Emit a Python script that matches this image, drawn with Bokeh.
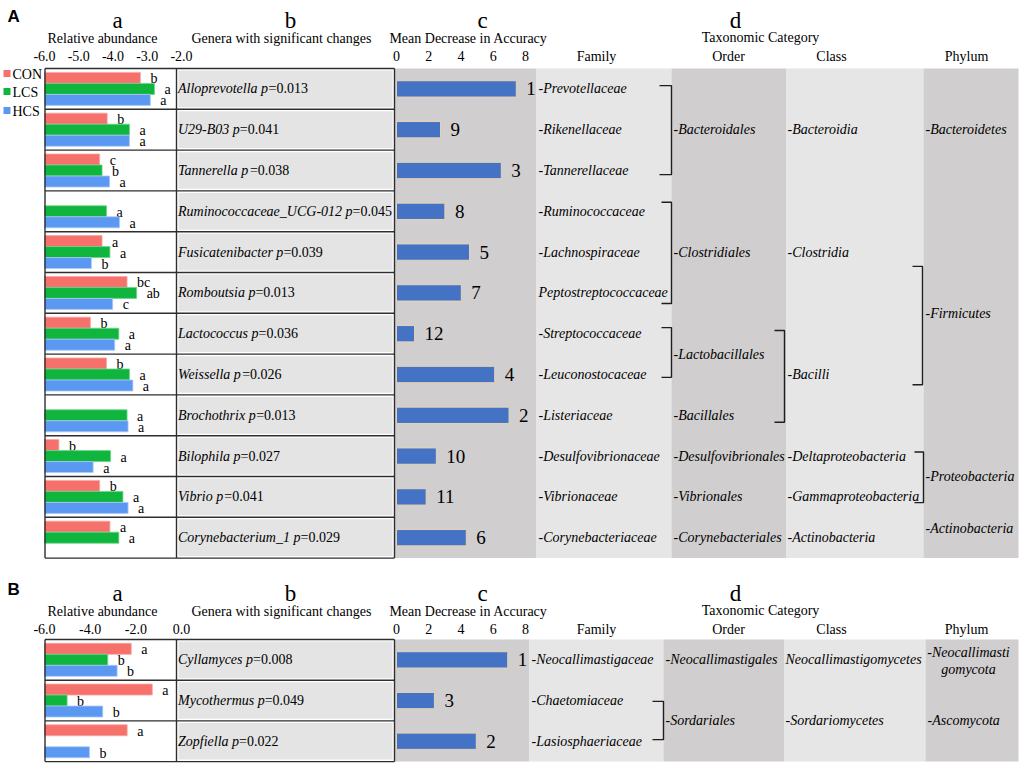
import math
from bokeh.plotting import figure
from bokeh.models import Range1d, ColumnDataSource
from bokeh.core.properties import value
from bokeh.embed import file_html
from bokeh.resources import INLINE

# ====================== DATA ======================
GROUPS = ["CON", "LCS", "HCS"]

# ---- Panel A (bacteria) ----
GENERA_A = ["Alloprevotella", "U29-B03", "Tannerella", "Ruminococcaceae_UCG-012",
            "Fusicatenibacter", "Romboutsia", "Lactococcus", "Weissella",
            "Brochothrix", "Bilophila", "Vibrio", "Corynebacterium_1"]
PVAL_A = ["0.013", "0.041", "0.038", "0.045", "0.039", "0.013", "0.036", "0.026",
          "0.013", "0.027", "0.041", "0.029"]
CON_A = [-3.20, -4.17, -4.39, None, -4.32, -3.59, -4.66, -4.19, None, -5.58, -4.39, -4.09]
LCS_A = [-2.79, -3.52, -4.32, -4.19, -4.09, -3.31, -3.83, -3.52, -3.59, -4.07, -3.71, -3.83]
HCS_A = [-2.91, -3.52, -4.10, -3.81, -4.63, -4.01, -3.95, -3.42, -3.56, -4.58, -3.56, None]
SIG_CON_A = ["b", "b", "c", "", "a", "bc", "b", "b", "", "b", "b", "a"]
SIG_LCS_A = ["a", "a", "b", "a", "a", "ab", "a", "a", "a", "a", "a", "a"]
SIG_HCS_A = ["a", "a", "a", "a", "b", "c", "a", "a", "a", "a", "a", ""]
MDA_A = [7.43, 2.73, 6.50, 3.00, 4.53, 4.02, 1.12, 6.09, 6.98, 2.47, 1.84, 4.33]
RANK_A = [1, 9, 3, 8, 5, 7, 12, 4, 2, 10, 11, 6]
FAMILY_A = ["-Prevotellaceae", "-Rikenellaceae", "-Tannerellaceae", "-Ruminococcaceae",
            "-Lachnospiraceae", "Peptostreptococcaceae", "-Streptococcaceae",
            "-Leuconostocaceae", "-Listeriaceae", "-Desulfovibrionaceae",
            "-Vibrionaceae", "-Corynebacteriaceae"]
ORDER_A = ["-Bacteroidales", "-Clostridiales", "-Lactobacillales", "-Bacillales",
           "-Desulfovibrionales", "-Vibrionales", "-Corynebacteriales"]
CLASS_A = ["-Bacteroidia", "-Clostridia", "-Bacilli", "-Deltaproteobacteria",
           "-Gammaproteobacteria", "-Actinobacteria"]
PHYLUM_A = ["-Bacteroidetes", "-Firmicutes", "-Proteobacteria", "-Actinobacteria"]
REL_TICKS_A = [-6, -5, -4, -3, -2]

# ---- Panel B (fungi) ----
GENERA_B = ["Cyllamyces", "Mycothermus", "Zopfiella"]
PVAL_B = ["0.008", "0.049", "0.022"]
CON_B = [-2.20, -1.28, -2.38]
LCS_B = [-3.23, -5.01, None]
HCS_B = [-2.82, -3.45, -4.03]
SIG_CON_B = ["a", "a", "a"]
SIG_LCS_B = ["b", "b", ""]
SIG_HCS_B = ["b", "b", "b"]
MDA_B = [6.90, 2.35, 4.95]
RANK_B = [1, 3, 2]
FAMILY_B = ["-Neocallimastigaceae", "-Chaetomiaceae", "-Lasiosphaeriaceae"]
ORDER_B = ["-Neocallimastigales", "-Sordariales"]
CLASS_B = ["Neocallimastigomycetes", "-Sordariomycetes"]
PHYLUM_B = ["-Neocallimasti\ngomycota", "-Ascomycota"]
REL_TICKS_B = [-6, -4, -2, 0]

MDA_TICKS = [0, 2, 4, 6, 8]

# ====================== LAYOUT / STYLE ======================
W, H = 1021, 765
XR = (0.0, 1021.0)          # reference-pixel window (left, right)
YR = (765.0, 0.0)           # (bottom, top) -> y grows downward
SERIF = value("Liberation Serif")
SANS = value("Liberation Sans")
COL_CON, COL_LCS, COL_HCS = "#F6716C", "#0FB53C", "#5A98F2"
EDGE_CON, EDGE_LCS, EDGE_HCS = "#F9A5A2", "#6CD38A", "#A9C9F7"
MDA_COL, MDA_EDGE = "#4472C4", "#E6D3B5"
DARK, LIGHT, CELL = "#D0CECE", "#E7E6E6", "#E4E4E4"
LINE = "#2E2E2E"
BOX_X0, GEN_X0, GEN_X1 = 44.5, 176.0, 394.0

# Times (Liberation Serif) italic advance widths, per 1000 em
TI = dict(zip("abcdefghijklmnopqrstuvwxyz",
              [500, 500, 444, 500, 444, 278, 500, 500, 278, 278, 444, 278, 722,
               500, 500, 500, 500, 389, 389, 278, 500, 444, 667, 444, 444, 389]))
TI.update(dict(zip("ABCDEFGHIJKLMNOPQRSTUVWXYZ",
                   [611, 611, 667, 722, 611, 611, 722, 722, 333, 444, 667, 556, 833,
                    667, 722, 611, 722, 611, 500, 556, 722, 611, 833, 611, 556, 556])))
TI.update({" ": 250, "-": 333, "_": 500})
for d in "0123456789":
    TI[d] = 500


def w_italic(s, size):
    return sum(TI.get(c, 500) for c in s) * size / 1000.0


def lin(lo, hi, pa, va, pb, vb):
    k = (vb - va) / (pb - pa)
    return Range1d(start=va + (lo - pa) * k, end=va + (hi - pa) * k)


p = figure(width=W, height=H, x_range=Range1d(*XR), y_range=Range1d(start=YR[0], end=YR[1]),
           x_axis_type=None, y_axis_type=None, toolbar_location=None,
           output_backend="svg", min_border=0, outline_line_color=None)
p.background_fill_color = "white"
p.border_fill_color = "white"

p.extra_x_ranges = {
    "relA": lin(XR[0], XR[1], 44.0, -6.0, 181.0, -2.0),
    "relB": lin(XR[0], XR[1], 44.0, -6.0, 181.0, 0.0),
    "mda": lin(XR[0], XR[1], 396.0, 0.0, 525.0, 8.0),
}

PANELS = [
    dict(name="A", top=68.0, rh=40.8, rel="relA", rows="rowsA",
         genera=GENERA_A, pvals=PVAL_A, vals=[CON_A, LCS_A, HCS_A],
         sigs=[SIG_CON_A, SIG_LCS_A, SIG_HCS_A], mda=MDA_A, rank=RANK_A,
         ticks=REL_TICKS_A,
         cols=[(394, 536, DARK), (536, 671, LIGHT), (671, 786, DARK), (786, 923, LIGHT), (923, 1018, DARK)],
         family=FAMILY_A, fam_x=538,
         order=ORDER_A, order_x=673, order_rows=[1, 4, 6.5, 8, 9, 10, 11],
         klass=CLASS_A, class_x=787, class_rows=[1, 4, 7, 9, 10, 11],
         phylum=PHYLUM_A, phy_x=925, phy_rows=[1, 5.5, 9.5, 10.78],
         brackets=[(659, 671, -0.08, 2.10), (661, 671, 2.78, 5.26), (661, 671, 5.85, 7.07),
                   (774, 784, 5.92, 8.17), (912, 922, 4.35, 7.25), (914, 923, 8.90, 10.14)],
         hdr=(19.5, 37.5, 55.5)),
    dict(name="B", top=639.0, rh=40.7, rel="relB", rows="rowsB",
         genera=GENERA_B, pvals=PVAL_B, vals=[CON_B, LCS_B, HCS_B],
         sigs=[SIG_CON_B, SIG_LCS_B, SIG_HCS_B], mda=MDA_B, rank=RANK_B,
         ticks=REL_TICKS_B,
         cols=[(394, 529, DARK), (529, 663, LIGHT), (663, 784, DARK), (784, 925, LIGHT), (925, 1018, DARK)],
         family=FAMILY_B, fam_x=531,
         order=ORDER_B, order_x=665, order_rows=[0, 1.5],
         klass=CLASS_B, class_x=785, class_rows=[0, 1.5],
         phylum=PHYLUM_B, phy_x=927, phy_rows=[0.03, 1.5],
         brackets=[(652, 663, 1.02, 1.96)],
         hdr=(593.0, 611.0, 628.5)),
]

p.extra_y_ranges = {}
for P in PANELS:
    t, rh = P["top"], P["rh"]
    p.extra_y_ranges[P["rows"]] = lin(YR[0], YR[1], t + 0.5 * rh, 0.0, t + 1.5 * rh, 1.0)


def txt(x, y, s, size="14px", align="center", baseline="alphabetic", style="normal",
        font=SERIF, **kw):
    p.text(x=[x], y=[y], text=[s], text_font=font, text_font_size=size,
           text_align=align, text_baseline=baseline, text_font_style=style,
           text_color="black", **kw)


for P in PANELS:
    rn, rel = P["rows"], P["rel"]
    n = len(P["genera"])
    rows = list(range(n))
    top_px, bot_px = P["top"], P["top"] + n * P["rh"]

    # column backgrounds
    for (x0, x1, c) in P["cols"]:
        p.quad(left=[x0], right=[x1], top=[top_px], bottom=[bot_px],
               fill_color=c, line_color=None)
    # genera cells
    p.quad(left=[GEN_X0 + 2] * n, right=[GEN_X1 - 2] * n,
           top=[r - 0.45 for r in rows], bottom=[r + 0.45 for r in rows],
           y_range_name=rn, fill_color=CELL, line_color=None)

    # relative abundance bars
    for vals, sig, off, col, edge in zip(P["vals"], P["sigs"], (-0.27, 0.0, 0.27),
                                         (COL_CON, COL_LCS, COL_HCS),
                                         (EDGE_CON, EDGE_LCS, EDGE_HCS)):
        keep = [i for i, v in enumerate(vals) if v is not None]
        src = ColumnDataSource(dict(y=[rows[i] + off for i in keep],
                                    v=[vals[i] for i in keep],
                                    t=[sig[i] for i in keep]))
        p.hbar(y="y", left=-6, right="v", height=0.27, source=src,
               x_range_name=rel, y_range_name=rn, fill_color=col,
               line_color=edge, line_width=0.8)
        p.text(x="v", y="y", text="t", source=src, x_range_name=rel, y_range_name=rn,
               x_offset=10, y_offset=1, text_align="left", text_baseline="middle",
               text_font=SERIF, text_font_size="14px", text_color="black")

    # grid lines of the table
    ys = [r - 0.5 for r in range(n + 1)]
    p.segment(x0=[BOX_X0] * (n + 1), y0=ys, x1=[GEN_X1] * (n + 1), y1=ys,
              y_range_name=rn, line_color=LINE, line_width=1.4)
    for x in (BOX_X0, GEN_X0, GEN_X1):
        p.segment(x0=[x], y0=[-0.5], x1=[x], y1=[n - 0.5], y_range_name=rn,
                  line_color=LINE, line_width=1.4)

    # mean decrease in accuracy bars + ranks
    src = ColumnDataSource(dict(y=rows, v=P["mda"], t=[str(k) for k in P["rank"]]))
    p.hbar(y="y", left=0, right="v", height=0.4, source=src, x_range_name="mda",
           y_range_name=rn, fill_color=MDA_COL, line_color=MDA_EDGE, line_width=1)
    p.text(x="v", y="y", text="t", source=src, x_range_name="mda", y_range_name=rn,
           x_offset=10, text_align="left", text_baseline="middle",
           text_font=SERIF, text_font_size="19px", text_color="black")

    # genera names: italic genus + italic p, upright "=value"
    ital = [g + " p" for g in P["genera"]]
    rom = ["=" + v for v in P["pvals"]]
    offs = [w_italic(s, 14) for s in ital]
    p.text(x=[GEN_X0 + 1.5] * n, y=rows, text=ital, y_range_name=rn,
           text_align="left", text_baseline="middle", text_font=SERIF,
           text_font_size="14px", text_font_style="italic", text_color="black")
    p.text(x=[GEN_X0 + 1.5] * n, y=rows, text=rom, x_offset=offs, y_range_name=rn,
           text_align="left", text_baseline="middle", text_font=SERIF,
           text_font_size="14px", text_color="black")

    # taxonomy columns
    def col_text(xs, ysr, labels, align="left"):
        p.text(x=xs, y=ysr, text=labels, y_range_name=rn, text_align=align,
               text_baseline="middle", text_font=SERIF, text_font_size="14px",
               text_font_style="italic", text_color="black", text_line_height=1.1)

    col_text([P["fam_x"]] * n, rows, P["family"])
    col_text([P["order_x"]] * len(P["order"]), P["order_rows"], P["order"])
    col_text([P["class_x"]] * len(P["klass"]), P["class_rows"], P["klass"])
    for lab, r in zip(P["phylum"], P["phy_rows"]):
        if "\n" in lab:
            col_text([968], [r], [lab], align="center")
        else:
            col_text([P["phy_x"]], [r], [lab])

    # brackets
    p.multi_line(xs=[[a, b, b, a] for (a, b, t0, t1) in P["brackets"]],
                 ys=[[t0, t0, t1, t1] for (a, b, t0, t1) in P["brackets"]],
                 y_range_name=rn, line_color="#1E1E1E", line_width=1.4)

    # headers
    y1, y2, y3 = P["hdr"]
    txt(7, y1 - 4, P["name"], size="17px", align="left", style="bold", font=SANS)
    for ch, x in (("a", 117), ("b", 290), ("c", 482), ("d", 735)):
        txt(x, y1, ch, size="23px")
    txt(102, y2, "Relative abundance")
    txt(281, y2, "Genera with significant changes")
    txt(468, y2, "Mean Decrease in Accuracy")
    txt(760, y2 - 1, "Taxonomic Category")
    for lab, x in (("Family", 596), ("Order", 728), ("Class", 831), ("Phylum", 966)):
        txt(x, y3, lab)
    p.text(x=P["ticks"], y=[y3] * len(P["ticks"]), text=["%.1f" % t for t in P["ticks"]],
           x_range_name=rel, text_align="center", text_baseline="alphabetic",
           text_font=SERIF, text_font_size="14px", text_color="black")
    p.text(x=MDA_TICKS, y=[y3] * len(MDA_TICKS), text=[str(t) for t in MDA_TICKS],
           x_range_name="mda", text_align="center", text_baseline="alphabetic",
           text_font=SERIF, text_font_size="14px", text_color="black")

# legend
for g, c, y in zip(GROUPS, (COL_CON, COL_LCS, COL_HCS), (73.0, 91.0, 110.0)):
    p.scatter(x=[6.5], y=[y], marker="square", size=7, fill_color=c, line_color=None)
    txt(12.0, y + 1, g, size="14px", align="left", baseline="middle")

open("out.html", "w").write(file_html(p, INLINE))
